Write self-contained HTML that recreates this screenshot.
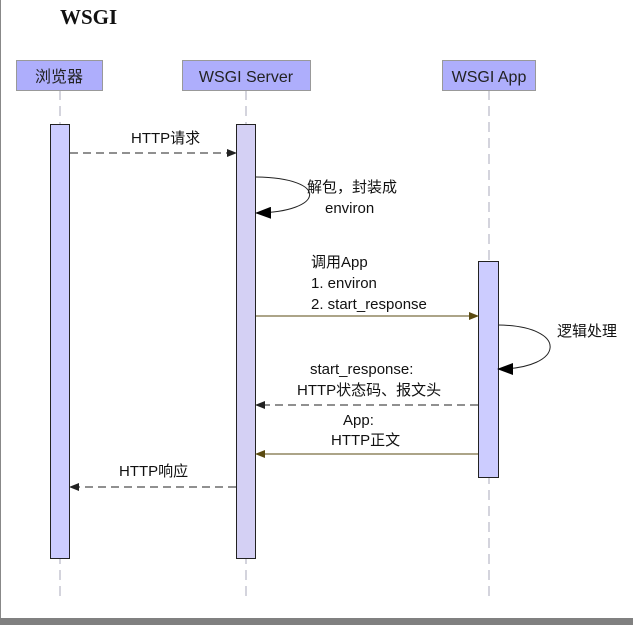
<!DOCTYPE html>
<html><head><style>
body{margin:0;width:633px;height:625px;overflow:hidden;background:#fff;position:relative;font-family:"Liberation Sans","Noto Sans CJK SC",sans-serif}
</style></head><body>
<svg width="633" height="625" style="position:absolute;left:0;top:0" font-family="Liberation Sans, Noto Sans CJK SC, sans-serif">
<defs>
<marker id="a" markerWidth="10" markerHeight="8" refX="9" refY="4" orient="auto" markerUnits="userSpaceOnUse"><path d="M0,0 L10,4 L0,8 Z" fill="#222"/></marker>
<marker id="b" markerWidth="10" markerHeight="8" refX="9" refY="4" orient="auto" markerUnits="userSpaceOnUse"><path d="M0,0 L10,4 L0,8 Z" fill="#5a4a10"/></marker>
<marker id="c" markerWidth="16" markerHeight="12" refX="15" refY="6" orient="auto" markerUnits="userSpaceOnUse"><path d="M0,0 L16,6 L0,12 Z" fill="#000"/></marker>
</defs>
<line x1="0.5" y1="0" x2="0.5" y2="618" stroke="#888"/>
<rect x="0" y="618" width="633" height="7" fill="#808080"/>
<text x="60" y="24" font-family="Liberation Serif, serif" font-weight="bold" font-size="21" fill="#111">WSGI</text>
<g stroke="#aab" stroke-dasharray="10,6">
<line x1="60" y1="90" x2="60" y2="598"/><line x1="246" y1="90" x2="246" y2="598"/><line x1="489" y1="90" x2="489" y2="598"/>
</g>
<g fill="#aeaefc" stroke="#999"><rect x="16.5" y="60.5" width="86" height="30"/><rect x="182.5" y="60.5" width="128" height="30"/><rect x="442.5" y="60.5" width="93" height="30"/></g>
<g font-size="16" fill="#222" text-anchor="middle"><text x="59" y="82">浏览器</text><text x="246" y="82">WSGI Server</text><text x="489" y="82">WSGI App</text></g>
<rect x="50.5" y="124.5" width="19" height="434" fill="#ccccff" stroke="#222"/>
<rect x="236.5" y="124.5" width="19" height="434" fill="#d4d0f4" stroke="#222"/>
<rect x="478.5" y="261.5" width="20" height="216" fill="#ccccff" stroke="#222"/>
<line x1="70" y1="153" x2="236" y2="153" stroke="#222" stroke-dasharray="8,5" marker-end="url(#a)"/>
<path d="M256,177 C330,178 325,212 256,213" fill="none" stroke="#222" marker-end="url(#c)"/>
<line x1="256" y1="316" x2="478" y2="316" stroke="#5a4a10" marker-end="url(#b)"/>
<path d="M498,325 C570,326 565,369 498,369" fill="none" stroke="#222" marker-end="url(#c)"/>
<line x1="478" y1="405" x2="256" y2="405" stroke="#222" stroke-dasharray="8,5" marker-end="url(#a)"/>
<line x1="478" y1="454" x2="256" y2="454" stroke="#5a4a10" marker-end="url(#b)"/>
<line x1="236" y1="487" x2="70" y2="487" stroke="#222" stroke-dasharray="8,5" marker-end="url(#a)"/>
<g font-size="15" fill="#111">
<text x="131" y="143">HTTP请求</text>
<text x="307" y="192">解包，封装成</text>
<text x="325" y="213">environ</text>
<text x="311" y="267">调用App</text>
<text x="311" y="288">1. environ</text>
<text x="311" y="309">2. start_response</text>
<text x="557" y="336">逻辑处理</text>
<text x="310" y="374">start_response:</text>
<text x="297" y="395">HTTP状态码、报文头</text>
<text x="343" y="425">App:</text>
<text x="331" y="445">HTTP正文</text>
<text x="119" y="476">HTTP响应</text>
</g>
</svg>
</body></html>
